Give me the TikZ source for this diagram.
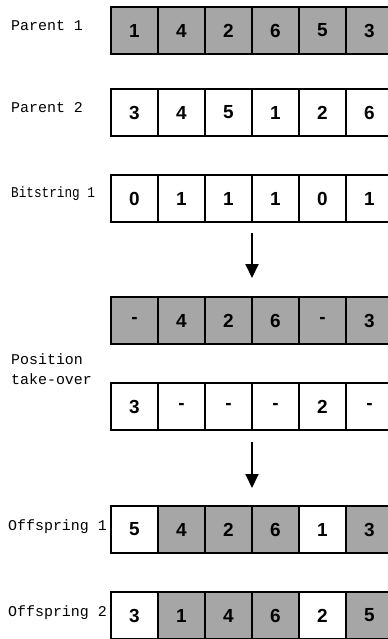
\documentclass[tikz,border=0pt]{standalone}
\usepackage{fontspec}
\setsansfont{Liberation Sans}
\setmonofont{Liberation Mono}
\newfontfamily\narrowmono[FakeStretch=0.85]{Liberation Mono}
\usetikzlibrary{arrows.meta,calc}

\definecolor{cellgray}{RGB}{166,166,166}

\tikzset{
  cell/.style={draw, line width=1.2bp, minimum size=47bp, inner sep=0pt,
    outer sep=0pt, anchor=north west,
    font=\fontsize{19}{22}\selectfont\sffamily\bfseries},
  rowlabel/.style={anchor=base west, inner sep=0pt,
    font=\fontsize{15}{20}\selectfont\ttfamily},
  flow/.style={line width=2bp, -{Triangle[width=13bp,length=14bp]}}
}

% one row of six cells: name, top edge, list of value/shade
\newcommand\cellrow[3]{%
  \foreach \v/\s [count=\i] in {#3}{
    \ifnum\s=1 \def\cellfill{cellgray}\else\def\cellfill{white}\fi
    \node[cell, fill=\cellfill] (#1-\i) at ({\gridX+(\i-1)*\cellW},#2) {\v};
  }}

\begin{document}
\begin{tikzpicture}[x=1bp,y=-1bp]
\useasboundingbox (0,0) rectangle (387,639);
% Parameters
\def\gridX{111}
\def\cellW{47}

% Parents and bitstring
\cellrow{p1}{7}{1/1,4/1,2/1,6/1,5/1,3/1}
\cellrow{p2}{89}{3/0,4/0,5/0,1/0,2/0,6/0}
\cellrow{bs}{175}{0/0,1/0,1/0,1/0,0/0,1/0}

\node[rowlabel] (p1-lab) at (11,31) {Parent 1};
\node[rowlabel] (p2-lab) at (11,113) {Parent 2};
\node[rowlabel, font=\fontsize{15}{20}\selectfont\narrowmono] (bs-lab) at (11,197.5) {Bitstring 1};

% Position take-over
\cellrow{t1}{297}{-/1,4/1,2/1,6/1,-/1,3/1}
\cellrow{t2}{383}{3/0,-/0,-/0,-/0,2/0,-/0}
\node[rowlabel, anchor=west, align=left] (t-lab) at (11,369) {Position\\take-over};

% Offspring
\cellrow{o1}{506}{5/0,4/1,2/1,6/1,1/0,3/1}
\cellrow{o2}{592}{3/0,1/1,4/1,6/1,2/0,5/1}

\node[rowlabel] (o1-lab) at (8,530) {Offspring 1};
\node[rowlabel] (o2-lab) at (8,616) {Offspring 2};

% Arrows between the stages
\coordinate (a1-s) at ($(bs-3.south east)+(0,11)$);
\coordinate (a1-e) at ($(t1-3.north east)+(0,-19)$);
\coordinate (a2-s) at ($(t2-3.south east)+(0,12)$);
\coordinate (a2-e) at ($(o1-3.north east)+(0,-18)$);
\draw[flow] (a1-s) -- (a1-e);
\draw[flow] (a2-s) -- (a2-e);
\end{tikzpicture}
\end{document}
